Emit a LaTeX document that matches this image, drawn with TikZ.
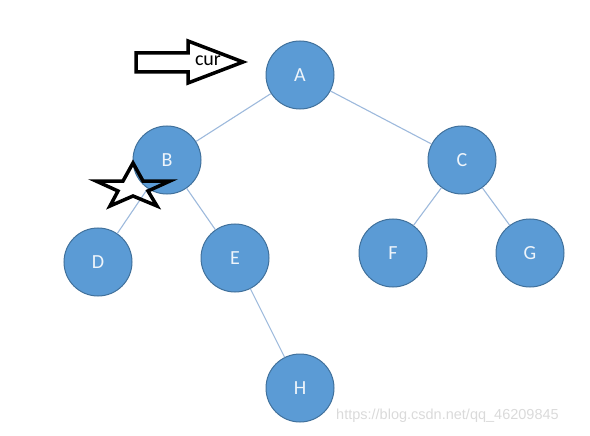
\documentclass[tikz,border=0pt]{standalone}
\usepackage{fontspec}
\setmainfont{Carlito}
\newfontfamily\markfont{Liberation Sans}
\definecolor{nodefill}{HTML}{5B9BD5}
\definecolor{nodeline}{HTML}{41719C}
\definecolor{edgeblue}{HTML}{9DB9DC}
\definecolor{marktext}{HTML}{DADADA}
\usetikzlibrary{positioning}
\tikzset{
  tnode/.style={circle, draw=nodeline, line width=1pt, fill=nodefill, text=white!90!nodefill,
                minimum size=68pt, inner sep=0pt, font=\fontsize{20}{20}\selectfont},
  tedge/.style={draw=edgeblue, line width=1.1pt},
  outline/.style={draw=black, line width=3.5pt, line join=miter, fill=white},
}
\begin{document}
\begin{tikzpicture}[x=1pt, y=-1pt]
  \useasboundingbox (0,0) rectangle (590,436);
  % tree nodes
  \node[tnode] (a) at (300,75)  {A};
  \node[tnode] (b) at (167,160) {B};
  \node[tnode] (c) at (462,160) {C};
  \node[tnode] (d) at (98,262)  {D};
  \node[tnode] (e) at (235,258) {E};
  \node[tnode] (f) at (393,253) {F};
  \node[tnode] (g) at (530,253) {G};
  \node[tnode] (h) at (300,388) {H};
  % edges
  \draw[tedge] (a) -- (b);
  \draw[tedge] (a) -- (c);
  \draw[tedge] (b) -- (d);
  \draw[tedge] (b) -- (e);
  \draw[tedge] (c) -- (f);
  \draw[tedge] (c) -- (g);
  \draw[tedge] (e) -- (h);
  % block arrow pointing at the current node
  \draw[outline] (136,53) -- (188,53) -- (188,41) -- (243,62) -- (188,83) -- (188,72) -- (136,72) -- cycle;
  \node[font=\fontsize{20}{20}\selectfont, inner sep=0pt] (cur) at (208,61) {cur};
  % star mark on B
  \draw[outline, fill=none] (133,163) -- (143,181) -- (170,181) -- (148,191) -- (157,206)
        -- (133,196) -- (110,206) -- (118,191) -- (96,181) -- (123,181) -- cycle;
  % watermark
  \node[font=\markfont\fontsize{14.5}{14.5}\selectfont, text=marktext, anchor=west, inner sep=0pt]
       (mark) at (336,416) {https://blog.csdn.net/qq\_46209845};
\end{tikzpicture}
\end{document}
